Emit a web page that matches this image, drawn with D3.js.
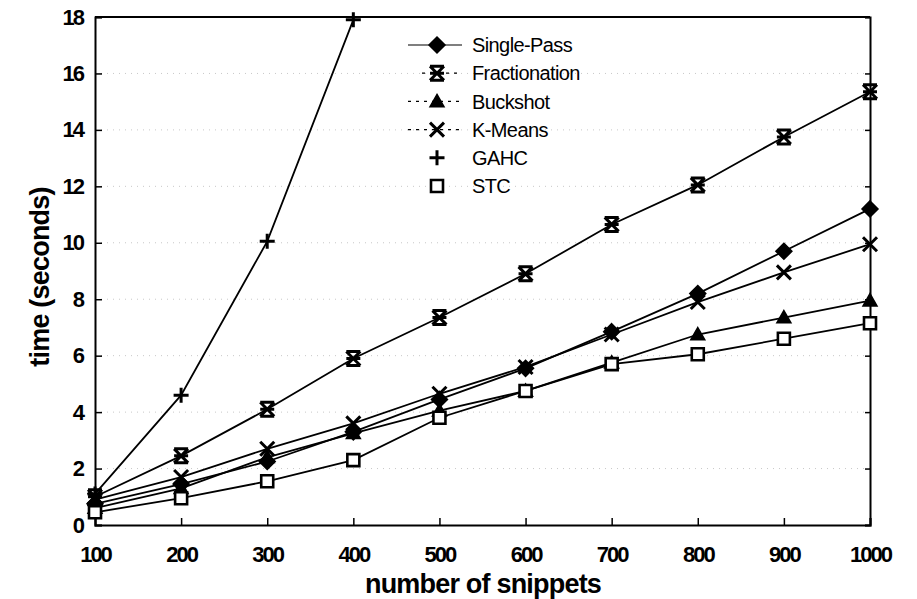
<!DOCTYPE html>
<html>
<head>
<meta charset="utf-8">
<script src="https://cdn.jsdelivr.net/npm/d3@7"></script>
<style>
  body { margin: 0; background: #fff; }
  svg text { font-family: "Liberation Sans", Arial, sans-serif; fill: #000; }
</style>
</head>
<body>
<div id="chart"></div>
<script>
// data
const snippets = [100, 200, 300, 400, 500, 600, 700, 800, 900, 1000];
const singlePass = [0.75, 1.45, 2.25, 3.3, 4.45, 5.55, 6.85, 8.2, 9.7, 11.2];
const fractionation = [1.0, 2.45, 4.1, 5.9, 7.35, 8.9, 10.65, 12.05, 13.75, 15.35];
const buckshot = [0.6, 1.3, 2.4, 3.25, 4.05, 4.75, 5.75, 6.75, 7.35, 7.95];
const kMeans = [0.9, 1.7, 2.7, 3.6, 4.65, 5.6, 6.75, 7.9, 8.95, 9.95];
const gahc = [1.1, 4.6, 10.05, 17.9];
const stc = [0.45, 0.95, 1.55, 2.3, 3.8, 4.75, 5.7, 6.05, 6.6, 7.15];

const yTicks = [0, 2, 4, 6, 8, 10, 12, 14, 16, 18];
const seriesNames = ["Single-Pass", "Fractionation", "Buckshot", "K-Means", "GAHC", "STC"];

const width = 917, height = 599;
const margin = { top: 17, right: 47, bottom: 74, left: 95 };
const innerW = width - margin.left - margin.right;
const innerH = height - margin.top - margin.bottom;

// custom markers (size = full width in px)
const symDiamond = { draw(ctx, size) { const r = size / 2;
  ctx.moveTo(0, -r); ctx.lineTo(r, 0); ctx.lineTo(0, r); ctx.lineTo(-r, 0); ctx.closePath(); } };
const symPlus = { draw(ctx, size) { const r = size / 2;
  ctx.moveTo(-r, 0); ctx.lineTo(r, 0); ctx.moveTo(0, -r); ctx.lineTo(0, r); } };
const symX = { draw(ctx, size) { const r = size / 2;
  ctx.moveTo(-r, -r); ctx.lineTo(r, r); ctx.moveTo(-r, r); ctx.lineTo(r, -r); } };
const symStar = { draw(ctx, size) { const r = size / 2;
  ctx.moveTo(-r, -r); ctx.lineTo(r, r); ctx.moveTo(-r, r); ctx.lineTo(r, -r);
  ctx.moveTo(-r, -r); ctx.lineTo(r, -r); ctx.moveTo(-r, r); ctx.lineTo(r, r);
  ctx.moveTo(-r, 0); ctx.lineTo(r, 0); } };
const symTriangle = { draw(ctx, size) { const r = size / 2;
  ctx.moveTo(0, -r); ctx.lineTo(r, r * 0.75); ctx.lineTo(-r, r * 0.75); ctx.closePath(); } };
const symSquare = { draw(ctx, size) { const r = size / 2;
  ctx.rect(-r, -r, size, size); } };

const series = [
  { name: seriesNames[0], values: singlePass, type: symDiamond, size: 16, fill: true, sw: 1.5 },
  { name: seriesNames[1], values: fractionation, type: symStar, size: 14, fill: false, sw: 3 },
  { name: seriesNames[2], values: buckshot, type: symTriangle, size: 14, fill: true, sw: 1.5 },
  { name: seriesNames[3], values: kMeans, type: symX, size: 14, fill: false, sw: 3 },
  { name: seriesNames[4], values: gahc, type: symPlus, size: 15, fill: false, sw: 3 },
  { name: seriesNames[5], values: stc, type: symSquare, size: 12, fill: false, sw: 2.6 }
];

const svg = d3.select("#chart").append("svg")
  .attr("width", width)
  .attr("height", height);

const g = svg.append("g").attr("transform", `translate(${margin.left},${margin.top})`);

const x = d3.scaleLinear().domain([100, 1000]).range([0, innerW]);
const y = d3.scaleLinear().domain([0, 18]).range([innerH, 0]);

// faint dotted gridlines
g.append("g")
  .selectAll("line")
  .data(yTicks.slice(1, -1))
  .enter()
  .append("line")
  .attr("x1", 0).attr("x2", innerW)
  .attr("y1", d => y(d)).attr("y2", d => y(d))
  .attr("stroke", "#c8c8c8")
  .attr("stroke-width", 1)
  .attr("stroke-dasharray", "1,5");

// axes with inward ticks
const xAxis = g.append("g")
  .attr("transform", `translate(0,${innerH})`)
  .call(d3.axisBottom(x).tickValues(snippets).tickSize(-7).tickPadding(21).tickFormat(d3.format("d")));
const yAxis = g.append("g")
  .call(d3.axisLeft(y).tickValues(yTicks).tickSize(-7).tickPadding(12));
g.append("g")
  .attr("transform", `translate(${innerW},0)`)
  .call(d3.axisRight(y).tickValues(yTicks).tickSize(-5).tickFormat(""));
g.append("line")
  .attr("x1", 0).attr("x2", innerW)
  .attr("stroke", "#000").attr("stroke-width", 2);

g.selectAll(".domain").attr("stroke", "#000").attr("stroke-width", 2);
g.selectAll(".tick line").attr("stroke", "#000").attr("stroke-width", 1.5);
[xAxis, yAxis].forEach(a => a.selectAll("text")
  .style("font-size", "22px")
  .style("font-weight", "bold")
  .style("letter-spacing", "-2px")
  .attr("fill", "#000"));

// lines
const line = d3.line().x((d, i) => x(snippets[i])).y(d => y(d));

series.forEach(s => {
  g.append("path")
    .datum(s.values)
    .attr("d", line)
    .attr("fill", "none")
    .attr("stroke", "#000")
    .attr("stroke-width", 1.8);

  g.selectAll(null)
    .data(s.values)
    .enter()
    .append("path")
    .attr("transform", (d, i) => `translate(${x(snippets[i])},${y(d)})`)
    .attr("d", d3.symbol().type(s.type).size(s.size))
    .attr("fill", s.fill ? "#000" : "#fff")
    .attr("stroke", "#000")
    .attr("stroke-width", s.sw);
});

// legend
const legend = svg.append("g").attr("transform", "translate(408,45)");
const rows = legend.selectAll("g")
  .data(series)
  .enter()
  .append("g")
  .attr("transform", (d, i) => `translate(0,${i * 28.2})`);

rows.filter((d, i) => i < 4)
  .append("line")
  .attr("x1", (d, i) => i === 1 ? 14 : 0)
  .attr("x2", 54)
  .attr("stroke", "#000")
  .attr("stroke-width", 1.2)
  .attr("stroke-dasharray", (d, i) => i === 0 ? null : "3,5");

rows.append("path")
  .attr("transform", "translate(29,0)")
  .attr("d", d => d3.symbol().type(d.type).size(d.size)())
  .attr("fill", d => d.fill ? "#000" : "#fff")
  .attr("stroke", "#000")
  .attr("stroke-width", d => d.sw);

rows.append("text")
  .attr("x", 64)
  .attr("dy", "0.36em")
  .style("font-size", "20px")
  .style("letter-spacing", "-0.6px")
  .text(d => d.name);

// axis titles
svg.append("text")
  .attr("x", 483)
  .attr("y", 593)
  .attr("text-anchor", "middle")
  .style("font-size", "27px")
  .style("font-weight", "bold")
  .style("letter-spacing", "-0.8px")
  .text("number of snippets");

svg.append("text")
  .attr("transform", "translate(49,277) rotate(-90)")
  .attr("text-anchor", "middle")
  .style("font-size", "27px")
  .style("font-weight", "bold")
  .style("letter-spacing", "-0.8px")
  .text("time (seconds)");
</script>
</body>
</html>
